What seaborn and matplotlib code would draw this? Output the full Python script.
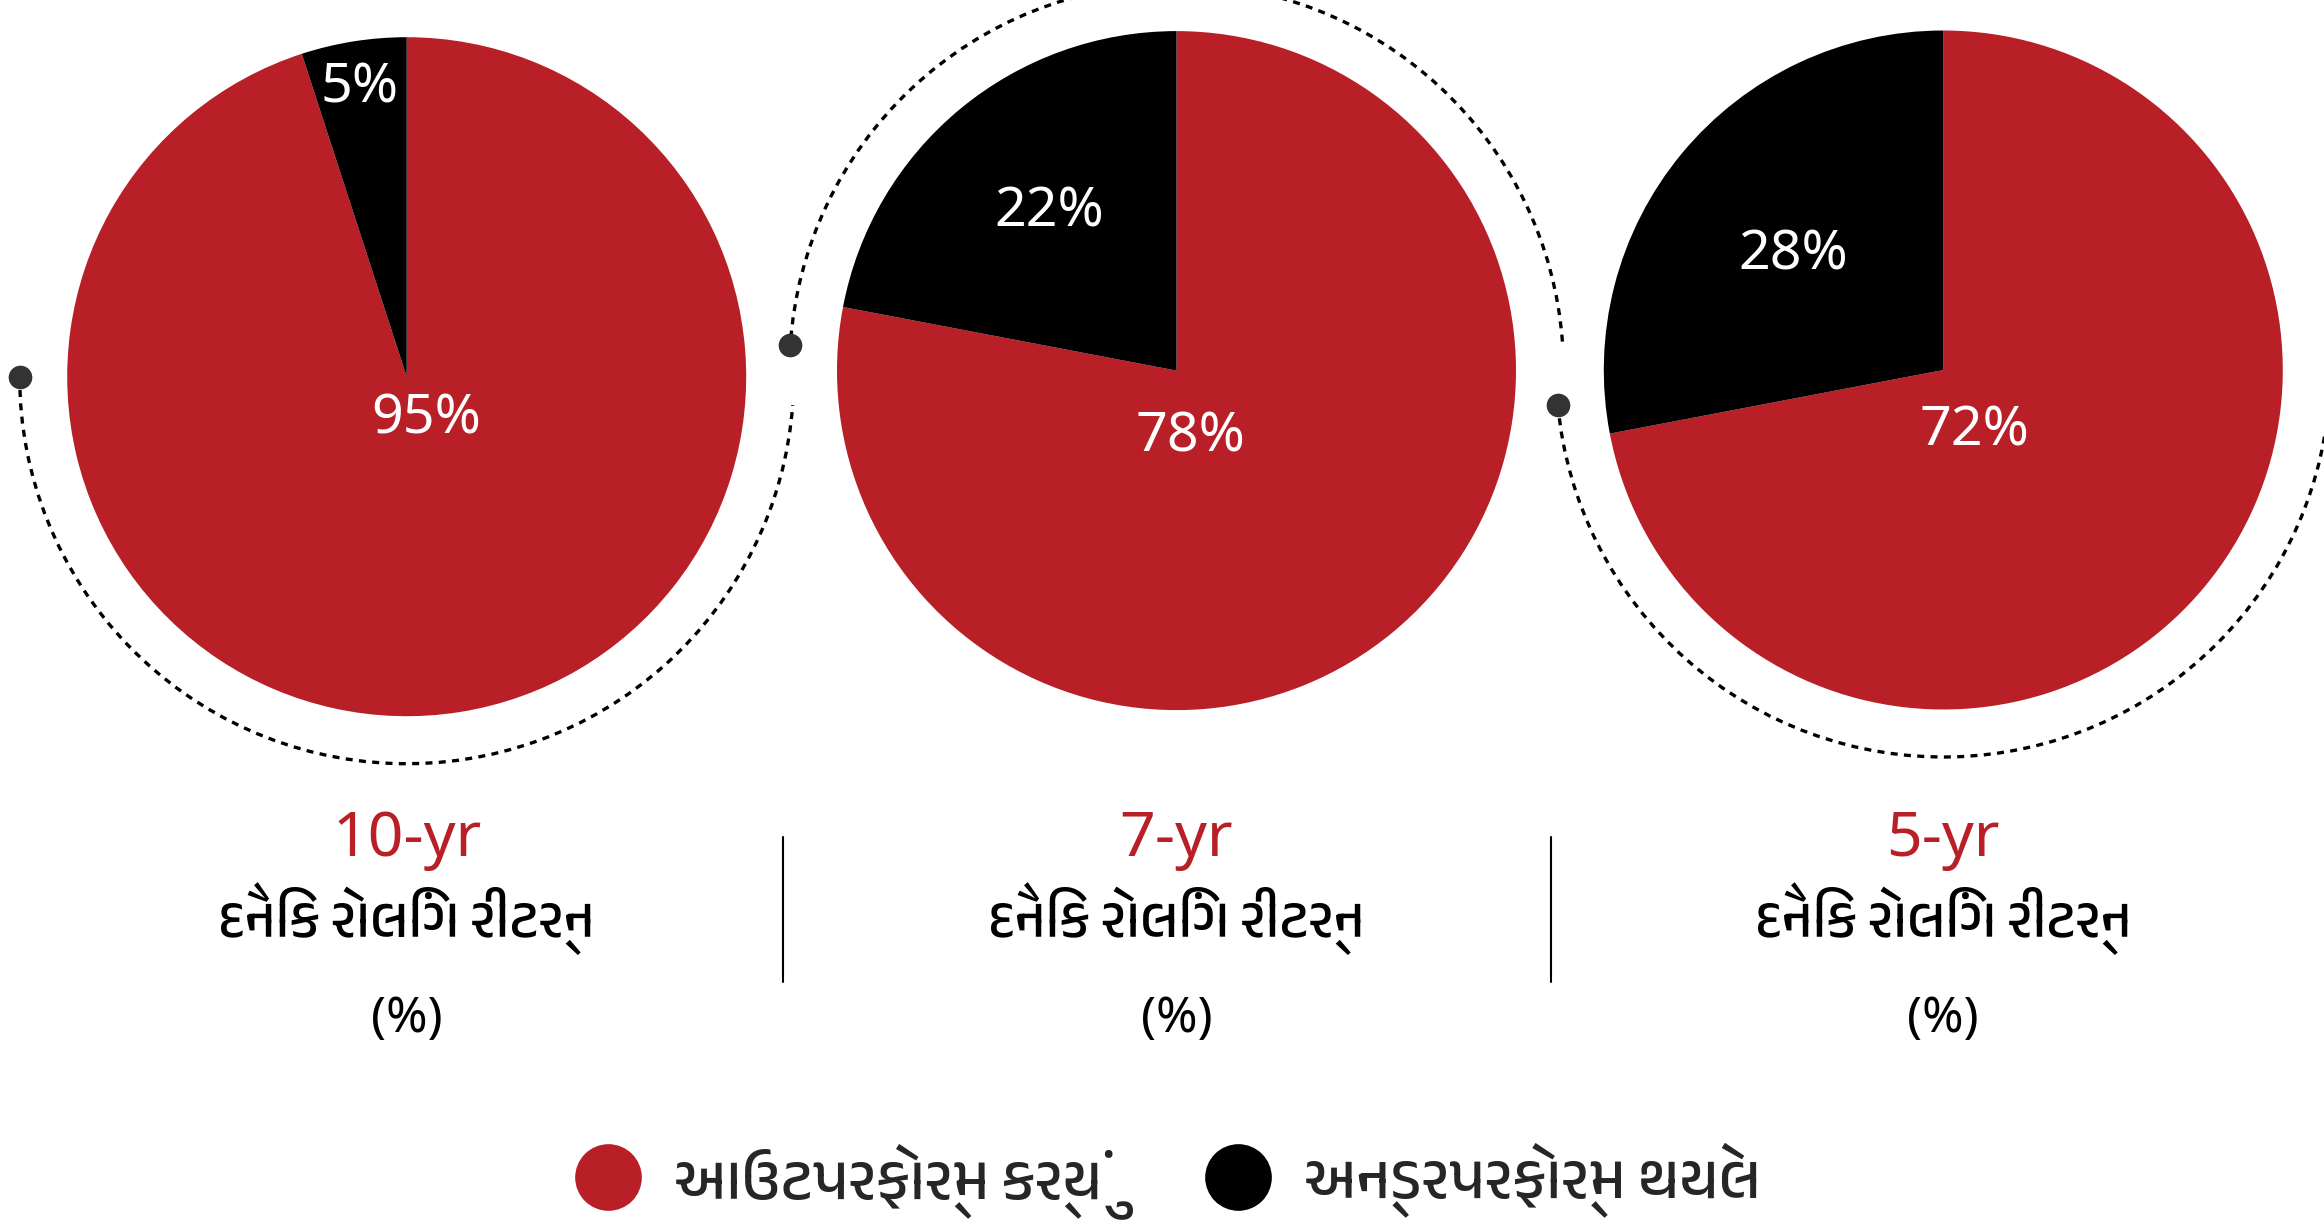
import math
import matplotlib
matplotlib.use("Agg")
import matplotlib.pyplot as plt
import seaborn as sns
from matplotlib import font_manager, ft2font
from matplotlib.patches import Arc
from matplotlib.lines import Line2D

# chart data
periods = ["10-yr", "7-yr", "5-yr"]
outperformed = [95, 78, 72]
underperformed = [5, 22, 28]
subtitle = "દૈનિક રોલિંગ રીટર્ન"
unit_label = "(%)"
legend_labels = ["આઉટપરફોર્મ કર્યું", "અન્ડરપરફોર્મ થયેલ"]

RED = "#B81F27"
BLACK = "#000000"
DOT = "#333333"
W, H = 2324, 1231

# layout, pixel coords with y measured from the top of the picture
centers = [(406.7, 376.7), (1176.5, 370.6), (1943.3, 370.0)]
radius = 339.5
arc_radius = 387
arc_spans = [(180, 355.8), (4.3, 176.2), (185.2, 358)]
dot_angles = [180, 176.2, 185.2]
# where the % labels sit, as fractions of the radius (outperform, underperform)
label_offsets = [((0.057, -0.125), (-0.138, 0.849)),
                 ((0.040, -0.195), (-0.376, 0.467)),
                 ((0.093, -0.180), (-0.443, 0.340))]
separators_x = [783, 1551]


def find_gujarati_font():
    # look for any installed family that actually has Gujarati glyphs
    found = []
    for entry in font_manager.fontManager.ttflist:
        try:
            if 0x0A95 in ft2font.FT2Font(entry.fname).get_charmap():
                found.append(entry.name)
        except Exception:
            continue
    for name in found:
        if "gujarati" in name.lower():
            return name
    return found[0] if found else None


sns.set_theme(style="white")
guj = find_gujarati_font()
latin = ["Noto Sans", "DejaVu Sans"]
plt.rcParams["font.family"] = ([guj] if guj else []) + latin

fig = plt.figure(figsize=(W / 100, H / 100), dpi=100)
ax = fig.add_axes([0, 0, 1, 1])

for i, (cx, cy) in enumerate(centers):
    y = H - cy
    ax.pie([outperformed[i], underperformed[i]], colors=[RED, BLACK],
           startangle=90, counterclock=False, center=(cx, y), radius=radius,
           frame=True, wedgeprops=dict(linewidth=0))

    t1, t2 = arc_spans[i]
    ax.add_patch(Arc((cx, y), 2 * arc_radius, 2 * arc_radius, theta1=t1, theta2=t2,
                     color="black", lw=2.4, linestyle=(0, (2.1, 1.9))))
    a = math.radians(dot_angles[i])
    ax.scatter([cx + arc_radius * math.cos(a)], [y + arc_radius * math.sin(a)],
               s=290, color=DOT, zorder=5, linewidths=0)

    for val, (dx, dy) in zip([outperformed[i], underperformed[i]], label_offsets[i]):
        ax.text(cx + dx * radius, y + dy * radius, f"{val}%", ha="center", va="center",
                color="white", fontsize=40, family=latin)

    ax.text(cx, H - 856, periods[i], ha="center", va="baseline", color=RED,
            fontsize=45, family=latin)
    ax.text(cx, H - 937, subtitle, ha="center", va="baseline", color="black", fontsize=40)
    ax.text(cx, H - 1019, unit_label, ha="center", va="center", color="black",
            fontsize=36, family=latin)

for sx in separators_x:
    ax.axvline(sx, ymin=1 - 982 / H, ymax=1 - 837 / H, color="black", lw=1.5)

handles = [Line2D([], [], marker="o", ls="none", markersize=48, markerfacecolor=c,
                  markeredgewidth=0) for c in [RED, BLACK]]
fig.legend(handles, legend_labels, loc="center left", bbox_to_anchor=(574 / W, 1 - 1181 / H),
           ncol=2, frameon=False, fontsize=44, handlelength=1.1, handletextpad=0.54,
           columnspacing=1.67, borderpad=0, borderaxespad=0)

ax.set_xlim(0, W)
ax.set_ylim(0, H)
ax.set_aspect("equal")
ax.axis("off")

fig.savefig("out.png", dpi=100, facecolor="white")
